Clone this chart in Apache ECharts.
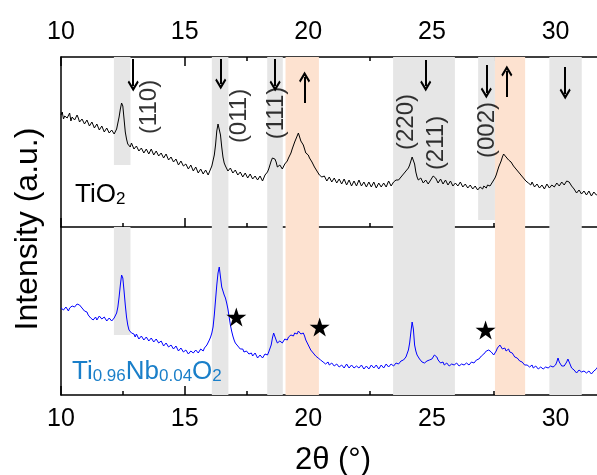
<!DOCTYPE html>
<html>
<head>
<meta charset="utf-8">
<title>XRD TiO2 / Ti0.96Nb0.04O2</title>
<script src="https://cdn.jsdelivr.net/npm/echarts@6.0.0/dist/echarts.min.js"></script>
<style>
html, body { margin: 0; padding: 0; background: #fff; }
#xrdChart { width: 597px; height: 475px; }
</style>
</head>
<body>
<div id="xrdChart"></div>
<script>
// 2θ scan: start / step (degrees)
var thetaStart = 10;
var thetaStep = 0.05;
var tickValues = [10, 15, 20, 25, 30];

// TiO2 intensity (a.u.), one row per degree, 10.00 .. 31.70
var tio2 = [
	112, 115, 108, 111, 113, 109, 110, 114, 106, 110, 111, 107, 107, 112, 109, 105, 104, 108, 108, 103,
	103, 107, 106, 101, 101, 105, 104, 99, 99, 103, 102, 97, 97, 101, 100, 95, 96, 99, 98, 94,
	94, 97, 96, 93, 95, 98, 104, 110, 118, 124, 121, 108, 95, 88, 83, 82, 80, 84, 82, 78,
	77, 81, 80, 76, 76, 79, 79, 74, 74, 78, 78, 73, 75, 78, 77, 72, 72, 76, 75, 71,
	71, 74, 73, 69, 69, 73, 72, 67, 67, 70, 69, 65, 65, 68, 67, 62, 62, 66, 65, 61,
	60, 63, 62, 58, 58, 62, 61, 56, 56, 60, 59, 54, 54, 58, 57, 53, 53, 57, 56, 52,
	55, 54, 61, 63, 72, 82, 96, 103, 104, 92, 80, 70, 64, 61, 60, 56, 57, 59, 58, 54,
	54, 57, 56, 52, 52, 55, 54, 50, 50, 54, 53, 49, 49, 53, 52, 48, 48, 51, 51, 47,
	47, 51, 50, 46, 48, 52, 52, 55, 58, 62, 66, 69, 70, 68, 65, 60, 58, 62, 61, 58,
	60, 63, 64, 66, 69, 71, 74, 78, 80, 85, 88, 91, 94, 90, 86, 88, 82, 78, 74, 75,
	72, 69, 67, 65, 63, 60, 58, 56, 55, 52, 51, 50, 49, 51, 50, 46, 47, 50, 49, 45,
	46, 49, 48, 44, 45, 48, 47, 43, 44, 48, 47, 42, 43, 47, 46, 41, 42, 46, 45, 41,
	43, 47, 46, 41, 42, 45, 44, 40, 41, 45, 45, 40, 42, 45, 44, 39, 41, 44, 43, 40,
	40, 44, 44, 40, 42, 46, 45, 41, 42, 45, 44, 47, 46, 47, 48, 50, 51, 53, 54, 56,
	57, 59, 62, 66, 70, 68, 63, 55, 50, 47, 46, 49, 48, 44, 44, 47, 46, 43, 45, 47,
	49, 51, 52, 49, 47, 44, 45, 48, 47, 43, 43, 47, 46, 42, 42, 46, 45, 41, 41, 44,
	44, 41, 42, 45, 43, 40, 40, 43, 43, 39, 39, 42, 42, 38, 38, 41, 41, 37, 37, 40,
	40, 38, 41, 43, 39, 42, 43, 41, 42, 45, 46, 49, 52, 56, 60, 63, 66, 70, 73, 71,
	70, 72, 67, 68, 65, 63, 61, 60, 58, 56, 55, 53, 52, 50, 49, 47, 46, 45, 44, 43,
	42, 45, 44, 40, 40, 43, 43, 39, 39, 42, 42, 38, 40, 43, 43, 39, 39, 42, 42, 40,
	41, 44, 44, 41, 42, 45, 45, 42, 43, 46, 47, 45, 44, 41, 40, 38, 37, 34, 35, 37,
	37, 33, 34, 36, 36, 32, 33, 36, 35, 31, 32, 35, 35, 32, 33
];
// Ti0.96Nb0.04O2 intensity (a.u.)
var tinb = [
	87, 89, 85, 84, 88, 86, 84, 87, 86, 89, 87, 88, 89, 91, 92, 90, 90, 87, 85, 84,
	82, 83, 80, 78, 77, 79, 75, 77, 78, 75, 76, 79, 79, 76, 75, 78, 78, 74, 76, 77,
	77, 74, 74, 77, 78, 82, 88, 98, 110, 120, 117, 104, 90, 78, 70, 65, 63, 62, 60, 61,
	58, 61, 60, 56, 56, 59, 59, 55, 55, 58, 58, 54, 54, 57, 57, 53, 53, 56, 56, 52,
	51, 54, 54, 49, 49, 52, 52, 48, 48, 50, 50, 46, 46, 49, 48, 44, 44, 47, 46, 43,
	42, 45, 45, 41, 41, 44, 44, 42, 42, 45, 45, 42, 43, 46, 46, 44, 47, 49, 50, 52,
	55, 58, 62, 68, 80, 95, 110, 122, 128, 118, 108, 104, 100, 97, 92, 86, 78, 70, 64, 59,
	55, 52, 50, 49, 47, 46, 45, 46, 43, 42, 44, 43, 41, 43, 42, 39, 39, 42, 40, 37,
	37, 40, 40, 37, 38, 41, 41, 40, 43, 45, 50, 57, 62, 60, 55, 52, 51, 54, 54, 52,
	53, 56, 56, 55, 58, 60, 60, 58, 59, 62, 63, 61, 64, 65, 61, 60, 62, 59, 55, 53,
	50, 48, 45, 44, 42, 40, 39, 38, 37, 36, 35, 34, 33, 32, 31, 33, 33, 30, 30, 32,
	32, 29, 29, 31, 31, 28, 28, 30, 30, 27, 28, 31, 31, 27, 27, 30, 29, 27, 27, 29,
	30, 27, 27, 30, 29, 26, 26, 29, 28, 26, 27, 30, 30, 27, 27, 30, 29, 26, 28, 30,
	30, 27, 28, 31, 31, 28, 29, 31, 31, 29, 30, 32, 32, 31, 33, 34, 34, 35, 36, 38,
	40, 45, 52, 63, 73, 66, 50, 44, 40, 38, 36, 34, 33, 32, 32, 34, 34, 33, 35, 35,
	36, 38, 40, 40, 38, 35, 33, 32, 31, 33, 30, 29, 32, 31, 29, 29, 31, 31, 30, 29,
	32, 31, 29, 30, 31, 33, 30, 29, 32, 32, 30, 31, 33, 34, 32, 33, 35, 36, 36, 37,
	39, 40, 41, 43, 44, 46, 45, 43, 43, 41, 40, 42, 44, 47, 48, 50, 49, 46, 45, 47,
	44, 46, 46, 43, 41, 42, 40, 38, 36, 37, 35, 34, 33, 33, 31, 30, 32, 30, 29, 28,
	28, 30, 27, 27, 29, 29, 26, 27, 28, 28, 26, 27, 28, 29, 27, 26, 29, 29, 28, 27,
	30, 33, 37, 33, 31, 29, 28, 29, 30, 33, 36, 33, 30, 27, 26, 25, 24, 22, 23, 25,
	25, 23, 22, 24, 24, 22, 23, 24, 23, 21, 22, 24, 25, 26, 28
];

// shaded 2θ ranges: [from, to, lower intensity limit]
var grayBandsTop = [[12.14, 12.81, 62], [16.10, 16.77, 0], [18.34, 18.97, 0], [23.43, 25.93, 0], [26.87, 27.55, 7], [29.75, 31.06, 0]];
var grayBandsBottom = [[12.14, 12.81, 60], [16.10, 16.77, 0], [18.34, 18.97, 0], [23.43, 25.93, 0], [29.75, 31.06, 0]];
var orangeBands = [[19.08, 20.43], [27.55, 28.77]];

// arrows in the TiO2 panel: [2θ, tail, head]
var downArrows = [[12.92, 168, 141], [16.46, 168, 143], [18.66, 168, 141], [24.75, 167, 141], [27.2, 162, 134], [30.39, 160, 133]];
var upArrows = [[19.85, 124, 150], [28.03, 130, 156]];

// reflections: [2θ, intensity, label]
var millerLabels = [[13.59, 120, '(110)'], [17.23, 111, '(011)'], [18.72, 114, '(111)'], [23.98, 105, '(220)'], [25.19, 84, '(211)'], [27.26, 97, '(002)']];
// impurity peaks (stars) in the Nb doped pattern
var starPoints = [[17.09, 78], [20.46, 68], [27.17, 65]];

var topMax = 170;
var bottomMax = 168;

var myChart;
var fontName = '"Liberation Sans", Arial, sans-serif';
var chevron = 'path://M5,0 L10,8 L8.8,9.6 L5,3.8 L1.2,9.6 L0,8 Z';
var star = 'path://M50,0 L61.2,34.5 L97.6,34.5 L68.2,55.9 L79.4,90.5 L50,69.1 L20.6,90.5 L31.8,55.9 L2.4,34.5 L38.8,34.5 Z';

var thetas = tio2.map(function(v, i) {
	return Math.round((thetaStart + i * thetaStep) * 100) / 100;
});
function pairs(vals) {
	return vals.map(function(v, i) {
		return [thetas[i], v];
	});
}
// 阴影区域
function bandAreas(grays, max) {
	var lst = [];
	for (var i = 0; i < grays.length; i++) {
		lst.push([{ xAxis: grays[i][0], yAxis: grays[i][2], itemStyle: { color: '#e6e6e6' } }, { xAxis: grays[i][1], yAxis: max }]);
	}
	for (var j = 0; j < orangeBands.length; j++) {
		lst.push([{ xAxis: orangeBands[j][0], yAxis: 0, itemStyle: { color: '#fde2d0' } }, { xAxis: orangeBands[j][1], yAxis: max }]);
	}
	return lst;
}
function arrowLines() {
	var lst = [];
	var all = downArrows.concat(upArrows);
	for (var i = 0; i < all.length; i++) {
		lst.push([{ coord: [all[i][0], all[i][1]] }, { coord: [all[i][0], all[i][2]] }]);
	}
	return lst;
}
function xAxisBase(grid, pos, labels) {
	return {
		type: 'value',
		gridIndex: grid,
		position: pos,
		min: tickValues[0],
		max: 32,
		interval: tickValues[1] - tickValues[0],
		axisLine: { show: true, onZero: false, lineStyle: { color: '#000', width: 1.5 } },
		axisTick: { show: true, inside: true, length: 9, lineStyle: { color: '#000', width: 1.5 } },
		minorTick: { show: true, splitNumber: 2, length: 4, lineStyle: { color: '#000', width: 1.5 } },
		axisLabel: { show: labels, showMaxLabel: false, fontSize: 25, color: '#000', margin: 12, fontFamily: fontName },
		splitLine: { show: false }
	};
}
function yAxisBase(grid, max) {
	return {
		type: 'value',
		gridIndex: grid,
		min: 0,
		max: max,
		axisLine: { show: true, lineStyle: { color: '#000', width: 1.5 } },
		axisTick: { show: false },
		axisLabel: { show: false },
		splitLine: { show: false }
	};
}

function chartSetting() {
	var xBottom = xAxisBase(1, 'bottom', true);
	xBottom.name = '2θ (°)';
	xBottom.nameLocation = 'middle';
	xBottom.nameGap = 50;
	xBottom.nameTextStyle = { fontSize: 31, color: '#000', fontFamily: fontName };
	var option = {
		animation: false,
		textStyle: { fontFamily: fontName },
		grid: [
			{ left: 61, top: 57, width: 544, height: 170, outerBoundsMode: 'none', containLabel: false },
			{ left: 61, top: 227, width: 544, height: 168, outerBoundsMode: 'none', containLabel: false }
		],
		xAxis: [xAxisBase(0, 'top', true), xAxisBase(0, 'bottom', false), xBottom],
		yAxis: [yAxisBase(0, topMax), yAxisBase(1, bottomMax)],
		graphic: [
			{ type: 'text', z: 100, x: 28, y: 229, rotation: Math.PI / 2, style: { text: 'Intensity (a.u.)', fontSize: 32, fontFamily: fontName, fill: '#000', align: 'center', verticalAlign: 'middle' } },
			{ type: 'text', z: 100, x: 75, y: 208, style: { text: '{m|TiO}{s|2}', fill: '#000', fontFamily: fontName, verticalAlign: 'bottom',
				rich: { m: { fontSize: 26, lineHeight: 32, verticalAlign: 'bottom', fontFamily: fontName }, s: { fontSize: 17, lineHeight: 17, verticalAlign: 'bottom', fontFamily: fontName } } } },
			{ type: 'text', z: 100, x: 72, y: 385, style: { text: '{m|Ti}{s|0.96}{m|Nb}{s|0.04}{m|O}{s|2}', fill: '#1a7fc9', fontFamily: fontName, verticalAlign: 'bottom',
				rich: { m: { fontSize: 26, lineHeight: 34, verticalAlign: 'bottom', fontFamily: fontName }, s: { fontSize: 17, lineHeight: 17, verticalAlign: 'bottom', fontFamily: fontName } } } }
		],
		series: [{
			name: 'bandsTop',
			type: 'line',
			xAxisIndex: 0,
			yAxisIndex: 0,
			z: 1,
			data: [],
			markArea: { silent: true, data: bandAreas(grayBandsTop, topMax) }
		}, {
			name: 'bandsBottom',
			type: 'line',
			xAxisIndex: 2,
			yAxisIndex: 1,
			z: 1,
			data: [],
			markArea: { silent: true, data: bandAreas(grayBandsBottom, bottomMax) }
		}, {
			name: 'TiO2',
			type: 'line',
			xAxisIndex: 0,
			yAxisIndex: 0,
			z: 3,
			showSymbol: false,
			symbol: 'none',
			lineStyle: { color: '#000', width: 1 },
			data: pairs(tio2),
			markLine: {
				silent: true,
				symbol: ['none', chevron],
				symbolSize: 11,
				label: { show: false },
				lineStyle: { color: '#000', width: 2, type: 'solid' },
				data: arrowLines()
			}
		}, {
			name: 'Ti0.96Nb0.04O2',
			type: 'line',
			xAxisIndex: 2,
			yAxisIndex: 1,
			z: 3,
			showSymbol: false,
			symbol: 'none',
			lineStyle: { color: '#0000ff', width: 1 },
			data: pairs(tinb)
		}, {
			name: 'miller',
			type: 'scatter',
			xAxisIndex: 0,
			yAxisIndex: 0,
			z: 4,
			symbolSize: 0,
			silent: true,
			label: {
				show: true,
				position: 'inside',
				rotate: 90,
				fontSize: 24,
				color: '#000',
				fontFamily: fontName,
				formatter: function(p) {
					return p.data[2];
				}
			},
			data: millerLabels
		}, {
			name: 'stars',
			type: 'scatter',
			xAxisIndex: 2,
			yAxisIndex: 1,
			z: 4,
			symbol: star,
			symbolSize: 20,
			symbolKeepAspect: true,
			itemStyle: { color: '#000', opacity: 1 },
			silent: true,
			data: starPoints
		}]
	};
	myChart.setOption(option);
}

myChart = echarts.init(document.getElementById('xrdChart'));
chartSetting();
window.onresize = myChart.resize;
</script>
</body>
</html>
